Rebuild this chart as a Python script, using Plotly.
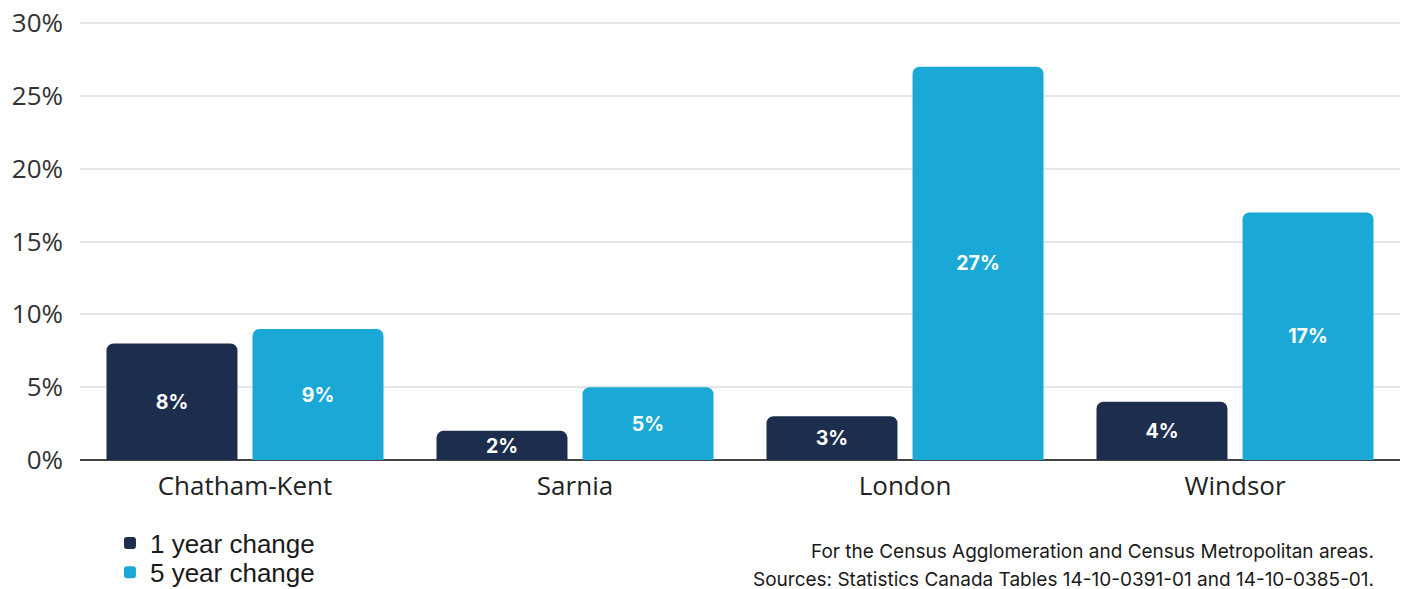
import plotly.graph_objects as go

categories = ["Chatham-Kent", "Sarnia", "London", "Windsor"]
one_year = [8, 2, 3, 4]
five_year = [9, 5, 27, 17]
y_ticks = [0, 5, 10, 15, 20, 25, 30]
y_tick_labels = ["0%", "5%", "10%", "15%", "20%", "25%", "30%"]

navy = "#1c2d4d"
cyan = "#1aa9d7"

fig = go.Figure()
fig.add_trace(go.Bar(
    x=categories, y=one_year, name="1 year change", legend="legend",
    marker=dict(color=navy, line=dict(width=0)),
    text=[f"{v}%" for v in one_year], textposition="inside",
    insidetextanchor="middle", textangle=0,
    textfont=dict(color="white", size=22, family="Inter", weight="bold"),
    hoverinfo="skip",
))
fig.add_trace(go.Bar(
    x=categories, y=five_year, name="5 year change", legend="legend2",
    marker=dict(color=cyan, line=dict(width=0)),
    text=[f"{v}%" for v in five_year], textposition="inside",
    insidetextanchor="middle", textangle=0,
    textfont=dict(color="white", size=22, family="Inter", weight="bold"),
    hoverinfo="skip",
))

legend_font = dict(family="Liberation Sans", size=26, color="#1a1a1a")
fig.update_layout(
    width=1413, height=589,
    margin=dict(l=72, r=21, t=14, b=137, autoexpand=False),
    paper_bgcolor="white", plot_bgcolor="white",
    barmode="group", bargap=0.115, bargroupgap=0.103,
    barcornerradius=7,
    uniformtext=dict(mode="show", minsize=10),
    showlegend=True,
    legend=dict(
        x=0.0227, xref="paper", y=-0.19, yanchor="middle",
        font=legend_font, itemwidth=30, bgcolor="rgba(0,0,0,0)",
    ),
    legend2=dict(
        x=0.0227, xref="paper", y=-0.2565, yanchor="middle",
        font=legend_font, itemwidth=30, bgcolor="rgba(0,0,0,0)",
    ),
    xaxis=dict(
        showgrid=False, showline=False, ticks="", automargin=False,
        tickfont=dict(family="Open Sans", size=26, color="#222222"),
        ticklabelstandoff=8,
    ),
    yaxis=dict(
        range=[0, 30.07], tickvals=y_ticks, ticktext=y_tick_labels,
        showgrid=True, gridcolor="#e6e6e6", gridwidth=1.5,
        zeroline=True, zerolinecolor="#444444", zerolinewidth=1.5,
        showline=False, ticks="", automargin=False,
        tickfont=dict(family="Open Sans", size=26, color="#333333"),
        ticklabelstandoff=16, ticklabeloverflow="allow",
    ),
)

note_lines = [
    "For the Census Agglomeration and Census Metropolitan areas.",
    "Sources: Statistics Canada Tables 14-10-0391-01 and 14-10-0385-01.",
]
for line, ypos in zip(note_lines, [-0.208, -0.272]):
    fig.add_annotation(
        xref="paper", yref="paper", x=0.9818, y=ypos,
        xanchor="right", yanchor="middle", align="right", showarrow=False,
        text=line, font=dict(family="Inter", size=19, color="#1a1a1a"),
    )

fig.write_html("out.html")
